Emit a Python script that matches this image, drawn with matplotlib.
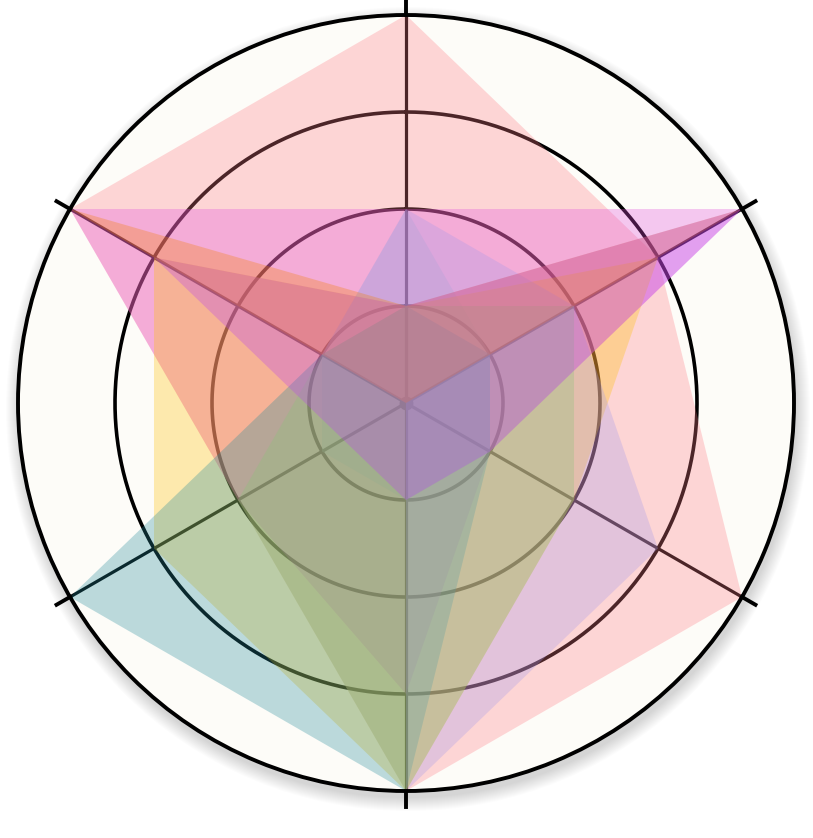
import numpy as np
import matplotlib.pyplot as plt
from matplotlib.patches import Circle

# values per axis: top, upper right, lower right, bottom, lower left, upper left
pink = [4, 3, 4, 4, 2, 4]
violet = [2, 4, 1, 3, 2, 4]
purple = [2, 1, 1, 1, 1, 1]
yellow = [1, 3, 2, 4, 3, 3]
teal = [1, 1, 1, 4, 4, 1]
lilac = [2, 2, 3, 4, 0, 1]
green = [1, 2, 2, 4, 2, 1]
orange = [1, 4, 0, 0, 0, 4]
magenta = [1, 4, 1, 1, 0.75, 3]

series = [pink, violet, purple, yellow, teal, lilac, green, orange, magenta]
colors = ["#fd7d87", "#e24fdd", "#aeaacf", "#fdc000", "#248b9b", "#a69aea", "#89c479", "#f28000", "#b943f0"]

W, H = 813, 838
cx, cy, R = 406, 403, 388

fig = plt.figure(figsize=(W / 100, H / 100), dpi=100)
fig.patch.set_facecolor("white")

# soft shadow under the disc
bg = fig.add_axes([0, 0, 1, 1])
bg.set_xlim(0, W)
bg.set_ylim(H, 0)
bg.axis("off")
for i in range(14):
    bg.add_patch(Circle((cx + 2, cy + 6), R + 14 - i, color="black", alpha=0.012, lw=0))

ax = fig.add_axes([(cx - R) / W, (H - cy - R) / H, 2 * R / W, 2 * R / H], projection="polar")
ax.set_facecolor("#fdfcf8")
ax.set_theta_zero_location("N")
ax.set_theta_direction(-1)
ax.set_ylim(0, 4)

angles = np.deg2rad(np.arange(6) * 60)

ax.set_xticks([])
ax.set_yticks([])
ax.grid(False)
ax.spines["polar"].set_linewidth(2.8)
ax.spines["polar"].set_color("black")

t = np.linspace(0, 2 * np.pi, 400)
for r in [1, 2, 3]:
    ax.plot(t, np.full_like(t, r), color="black", lw=2.6, zorder=1)
for a in angles:
    ax.plot([a, a], [0, 4], color="black", lw=2.3, zorder=1)
    ax.plot([a, a], [4, 4.16], color="black", lw=2.8, zorder=5, clip_on=False)
ax.plot([0], [0], "o", color="black", ms=9, zorder=1)

for vals, c in zip(series, colors):
    th = np.append(angles, angles[0])
    rr = np.append(vals, vals[0])
    ax.fill(th, rr, color=c, alpha=0.3, lw=0, zorder=2)

fig.savefig("out.png", dpi=100, facecolor="white")
